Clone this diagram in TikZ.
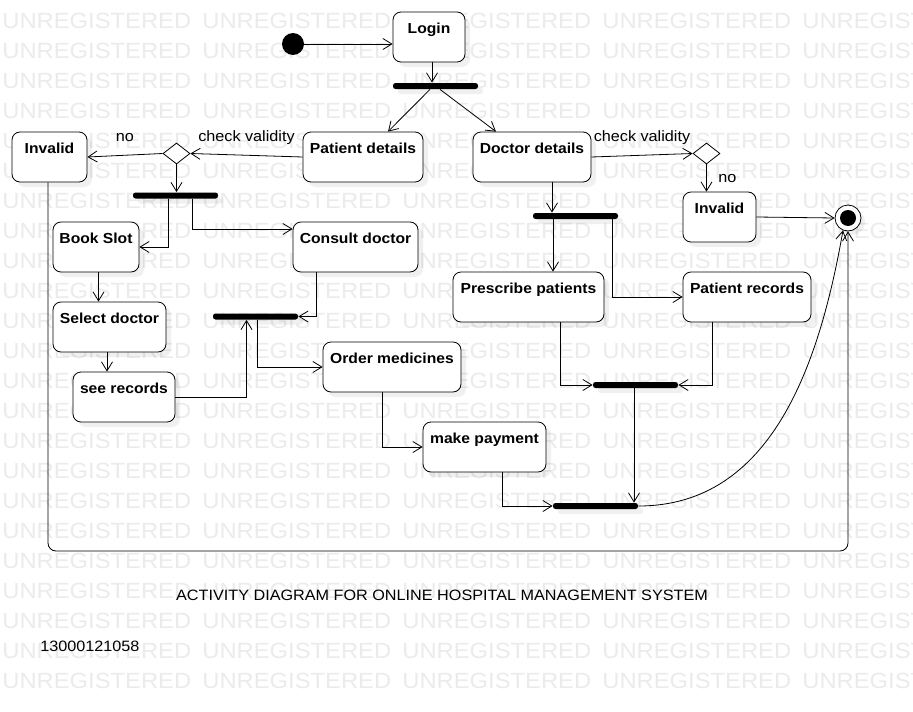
\documentclass[tikz,border=0pt]{standalone}
\usepackage{fontspec}
\setmainfont[FakeStretch=1.08]{Liberation Sans}
\usetikzlibrary{arrows.meta}
\usetikzlibrary{positioning}
\usetikzlibrary{calc}
\usetikzlibrary{shapes.geometric}
\usetikzlibrary{shadows}

\begin{document}
\begin{tikzpicture}[->,>={Straight Barb[length=9pt,width=11pt]},x=1pt,y=1pt,
			line width=0.8pt]
			\tikzstyle{act}=[draw,fill=white,rounded corners=8pt,inner xsep=0pt,inner ysep=0pt,
				text height=21pt,text depth=29pt,minimum height=50pt,
				font=\fontsize{14.5}{17}\selectfont\bfseries,
				drop shadow={shadow xshift=5pt,shadow yshift=-5pt,fill=black,opacity=0.06}]
			\tikzstyle{bar}=[fill=black,rounded corners=2.5pt,minimum width=85pt,minimum height=6pt,
				inner sep=0pt,drop shadow={shadow xshift=5pt,shadow yshift=-5pt,fill=black,opacity=0.06}]
			\tikzstyle{choice}=[diamond,draw,fill=white,minimum width=27pt,minimum height=21pt,inner sep=0pt]
			\tikzstyle{lbl}=[font=\fontsize{15}{18}\selectfont,inner sep=1pt,text height=11pt,text depth=3pt]
			\tikzstyle{wmark}=[text=black!8,font=\fontsize{22}{24}\selectfont,inner sep=0pt,anchor=west]
			
			\useasboundingbox (0,0) rectangle (913,-712);
			\fill[white] (0,0) rectangle (913,-712);
			
			% watermark
			\begin{scope}
				\clip (0,0) rectangle (913,-712);
				\foreach \r in {0,...,22}
					\foreach \c in {0,...,4}
						\node[wmark] (wm-\r-\c) at (2+200*\c,-21-30*\r) {UNREGISTERED};
			\end{scope}
			
			\node[circle,fill=black,minimum size=22pt,inner sep=0pt] (start) at (293,-44) {};
			\node[act,minimum width=72pt]  (login)     at (429,-37)      {Login};
			\node[bar]                     (f1)        at (435.5,-86)    {};
			\node[act,minimum width=120pt] (patient)   at (363,-157)     {Patient details};
			\node[act,minimum width=118pt] (doctor)    at (532,-157)     {Doctor details};
			\node[choice]                  (c1)        at (176.5,-153.5) {};
			\node[choice]                  (c2)        at (706.5,-153.5) {};
			\node[act,minimum width=75pt]  (inv1)      at (49.5,-157)    {Invalid};
			\node[act,minimum width=73pt]  (inv2)      at (719.5,-217)   {Invalid};
			\node[bar]                     (f2)        at (175.5,-195.5) {};
			\node[act,minimum width=86pt]  (book)      at (96,-247)      {Book Slot};
			\node[act,minimum width=125pt] (consult)   at (355.5,-247)   {Consult doctor};
			\node[act,minimum width=113pt] (select)    at (109.5,-327)   {Select doctor};
			\node[act,minimum width=102pt] (see)       at (124,-397)     {see records};
			\node[bar]                     (f3)        at (255.5,-316.5) {};
			\node[act,minimum width=138pt] (order)     at (392,-367)     {Order medicines};
			\node[act,minimum width=123pt] (pay)       at (484.5,-447)   {make payment};
			\node[bar]                     (f4)        at (575.5,-216)   {};
			\node[act,minimum width=151pt] (prescribe) at (528.5,-297)   {Prescribe patients};
			\node[act,minimum width=128pt] (records)   at (747,-297)     {Patient records};
			\node[bar]                     (f6)        at (635.5,-385)   {};
			\node[bar]                     (f5)        at (595.5,-506)   {};
			\node[circle,draw,fill=white,minimum size=26pt,inner sep=0pt,
				drop shadow={shadow xshift=4pt,shadow yshift=-4pt,fill=black,opacity=0.06}] (final) at (848,-218) {};
			\node[circle,fill=black,minimum size=16pt,inner sep=0pt] (finaldot) at (final) {};
			
			\coordinate (loopL) at (48,-551);
			\coordinate (loopR) at (848,-551);
			
			\draw (start) -- (start -| login.west);
			\draw ([xshift=3pt]login.south) -- ([xshift=3pt]login.south |- f1.north);
			\draw ([xshift=-5.5pt]f1.south) -- ([xshift=25pt]patient.north);
			\draw ([xshift=4.5pt]f1.south) -- ([xshift=-36pt]doctor.north);
			
			\path (patient.west) edge node[lbl,above=9pt] (chk1) {check validity} (c1.east)
			(c1.west)     edge node[lbl,above=9pt] (no1)  {no}             (inv1.east)
			(c1.south)    edge                                             (c1.south |- f2.north)
			(doctor.east) edge node[lbl,above=9pt] (chk2) {check validity} (c2.west)
			(c2.south)    edge node[lbl,right=10.5pt] (no2) {no}           (c2.south |- inv2.north)
			(inv2.east)   edge                                             (final.west)
			;
			
			% patient side
			\draw ([xshift=-7.5pt]f2.south) |- (book.east);
			\draw ([xshift=16.5pt]f2.south) |- ([yshift=18pt]consult.west);
			\draw ([xshift=2.5pt]book.south) -- ([xshift=2.5pt]book.south |- select.north);
			\draw ([xshift=-2.5pt]select.south) -- ([xshift=-2.5pt]select.south |- see.north);
			\draw (see.east) -| ([xshift=-9pt]f3.south);
			\draw ([xshift=-39.5pt]consult.south) |- (f3.east);
			\draw ([xshift=2pt]f3.south) |- (order.west);
			\draw ([xshift=-9.5pt]order.south) |- (pay.west);
			\draw ([xshift=18pt]pay.south) |- (f5.west);
			
			% doctor side
			\draw ([xshift=20pt]doctor.south) -- ([xshift=20pt]doctor.south |- f4.north);
			\draw ([xshift=-22.5pt]f4.south) -- ([xshift=-22.5pt]f4.south |- prescribe.north);
			\draw ([xshift=37pt]f4.south) |- (records.west);
			\draw ([xshift=31.5pt]prescribe.south) |- (f6.west);
			\draw ([xshift=-35pt]records.south) |- (f6.east);
			\draw ([xshift=-1.5pt]f6.south) -- ([xshift=-1.5pt]f6.south |- f5.north);
			
			\draw (f5.east) to[out=0,in=-100] (final.-112);
			\draw[rounded corners=8pt] (inv1.south -| loopL) -- (loopL) -- (loopR) -- (final.south);
			
			\node[font=\fontsize{15}{18}\selectfont] (title) at (442,-595.5)
				{ACTIVITY DIAGRAM FOR ONLINE HOSPITAL MANAGEMENT SYSTEM};
			\node[font=\fontsize{15}{18}\selectfont,anchor=west,inner sep=0pt] (rollno) at (40,-646) {13000121058};
\end{tikzpicture}
\end{document}
